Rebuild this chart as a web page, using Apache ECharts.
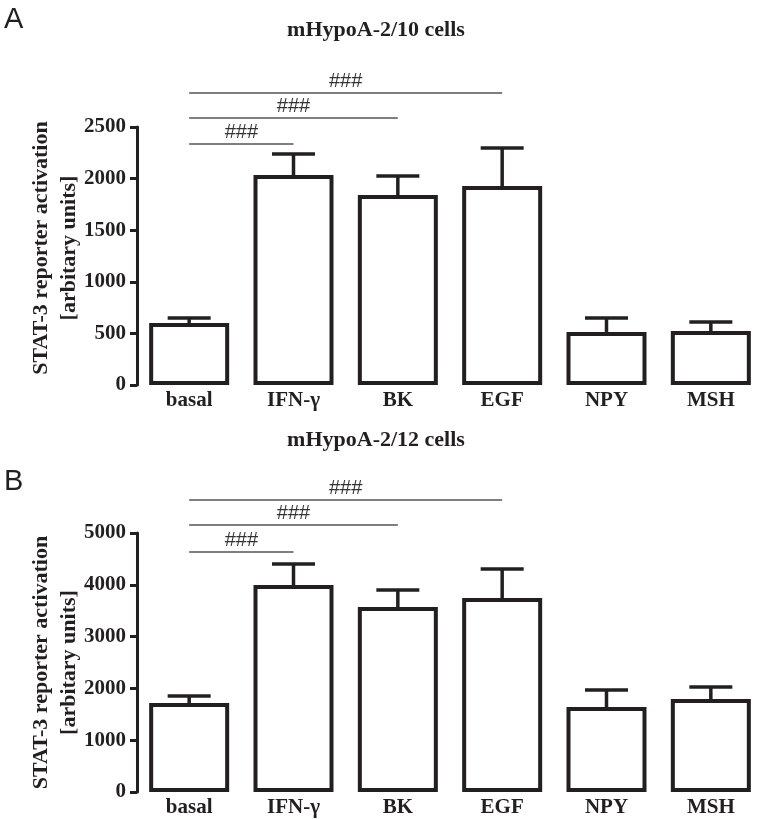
<!DOCTYPE html>
<html>
<head>
<meta charset="utf-8">
<script src="https://cdn.jsdelivr.net/npm/echarts@6/dist/echarts.min.js"></script>
<style>
html,body{margin:0;padding:0;background:#fff;}
#chart{width:766px;height:819px;}
</style>
</head>
<body>
<div id="chart"></div>
<script>
const categories = ['basal', 'IFN-γ', 'BK', 'EGF', 'NPY', 'MSH'];
const meansA = [601, 2035, 1840, 1928, 514, 523];
const errA = [48, 203, 185, 368, 135, 87];
const meansB = [1718, 3996, 3571, 3745, 1641, 1795];
const errB = [135, 406, 329, 560, 328, 232];
// significance brackets: [fromIndex, toIndex, level]
const sigA = [[0, 1, 2335], [0, 2, 2587], [0, 3, 2829]];
const sigB = [[0, 1, 4633], [0, 2, 5154], [0, 3, 5637]];
const sigLabel = '###';
const titleA = 'mHypoA-2/10 cells';
const titleB = 'mHypoA-2/12 cells';
const yMaxA = 2500, yStepA = 500;
const yMaxB = 5000, yStepB = 1000;
const yName = 'STAT-3 reporter activation\n[arbitary units]';

const ink = '#231f20';
const serif = '"Liberation Serif", "DejaVu Serif", serif';
const sans = '"Liberation Sans", Arial, sans-serif';

function errItem(params, api) {
  const i = api.value(0), m = api.value(1), e = api.value(2);
  const p0 = api.coord([i, m]);
  const p1 = api.coord([i, m + e]);
  const half = 21.5;
  return {
    type: 'group',
    children: [
      {type: 'line', shape: {x1: p0[0], y1: p0[1], x2: p1[0], y2: p1[1]}, style: {stroke: ink, lineWidth: 3.5}},
      {type: 'line', shape: {x1: p1[0] - half, y1: p1[1], x2: p1[0] + half, y2: p1[1]}, style: {stroke: ink, lineWidth: 3.5}}
    ]
  };
}
function sigItem(params, api) {
  const a = api.value(0), b = api.value(1), v = api.value(2);
  const p0 = api.coord([a, v]);
  const p1 = api.coord([b, v]);
  return {
    type: 'group',
    children: [
      {type: 'line', shape: {x1: p0[0], y1: p0[1], x2: p1[0], y2: p1[1]}, style: {stroke: '#555', lineWidth: 1.4}},
      {type: 'text', x: (p0[0] + p1[0]) / 2, y: p0[1] - 2,
       style: {text: sigLabel, fill: '#333', font: '20px ' + sans, align: 'center', verticalAlign: 'bottom'}}
    ]
  };
}
function yAxisCfg(gi, max, step, shift) {
  return {
    type: 'value', gridIndex: gi, min: 0, max: max, interval: step,
    name: yName, nameLocation: 'middle', nameRotate: 90, nameGap: 54, nameMoveOverlap: false,
    nameTextStyle: {fontFamily: serif, fontWeight: 'bold', fontSize: 22, color: ink, lineHeight: 28,
                    padding: [0, 0, 0, shift]},
    axisLine: {show: true, lineStyle: {color: ink, width: 3}},
    axisTick: {show: true, length: 7, lineStyle: {color: ink, width: 3}},
    axisLabel: {fontFamily: serif, fontWeight: 'bold', fontSize: 21, color: ink, margin: 11,
                formatter: v => String(v)},
    splitLine: {show: false}
  };
}
function xAxisCfg(gi) {
  return {
    type: 'category', gridIndex: gi, data: categories,
    axisLine: {show: false}, axisTick: {show: false},
    axisLabel: {fontFamily: serif, fontWeight: 'bold', fontSize: 21, color: ink, margin: 5}
  };
}
function barSeries(gi, means) {
  return {
    type: 'bar', xAxisIndex: gi, yAxisIndex: gi, data: means, barWidth: 80,
    itemStyle: {color: '#fff', borderColor: ink, borderWidth: 4}, z: 2
  };
}
function errSeries(gi, means, errs) {
  return {
    type: 'custom', xAxisIndex: gi, yAxisIndex: gi, renderItem: errItem,
    data: means.map((m, i) => [i, m, errs[i]]), z: 3, clip: false
  };
}
function sigSeries(gi, sig) {
  return {
    type: 'custom', xAxisIndex: gi, yAxisIndex: gi, renderItem: sigItem,
    data: sig, z: 3, clip: false
  };
}

const chart = echarts.init(document.getElementById('chart'), null, {renderer: 'canvas'});
chart.setOption({
  backgroundColor: '#fff',
  animation: false,
  title: [
    {text: 'A', left: -1, top: 0, textStyle: {fontFamily: sans, fontWeight: 'normal', fontSize: 29, color: ink}},
    {text: titleA, left: 371, top: 14, textAlign: 'center', textStyle: {fontFamily: serif, fontWeight: 'bold', fontSize: 22, color: ink}},
    {text: 'B', left: -1, top: 462, textStyle: {fontFamily: sans, fontWeight: 'normal', fontSize: 29, color: ink}},
    {text: titleB, left: 371, top: 424, textAlign: 'center', textStyle: {fontFamily: serif, fontWeight: 'bold', fontSize: 22, color: ink}}
  ],
  grid: [
    {left: 137, width: 626, top: 127, height: 258},
    {left: 137, width: 626, top: 533, height: 259}
  ],
  xAxis: [xAxisCfg(0), xAxisCfg(1)],
  yAxis: [yAxisCfg(0, yMaxA, yStepA, 16), yAxisCfg(1, yMaxB, yStepB, 0)],
  series: [
    barSeries(0, meansA), errSeries(0, meansA, errA), sigSeries(0, sigA),
    barSeries(1, meansB), errSeries(1, meansB, errB), sigSeries(1, sigB)
  ]
});
</script>
</body>
</html>
